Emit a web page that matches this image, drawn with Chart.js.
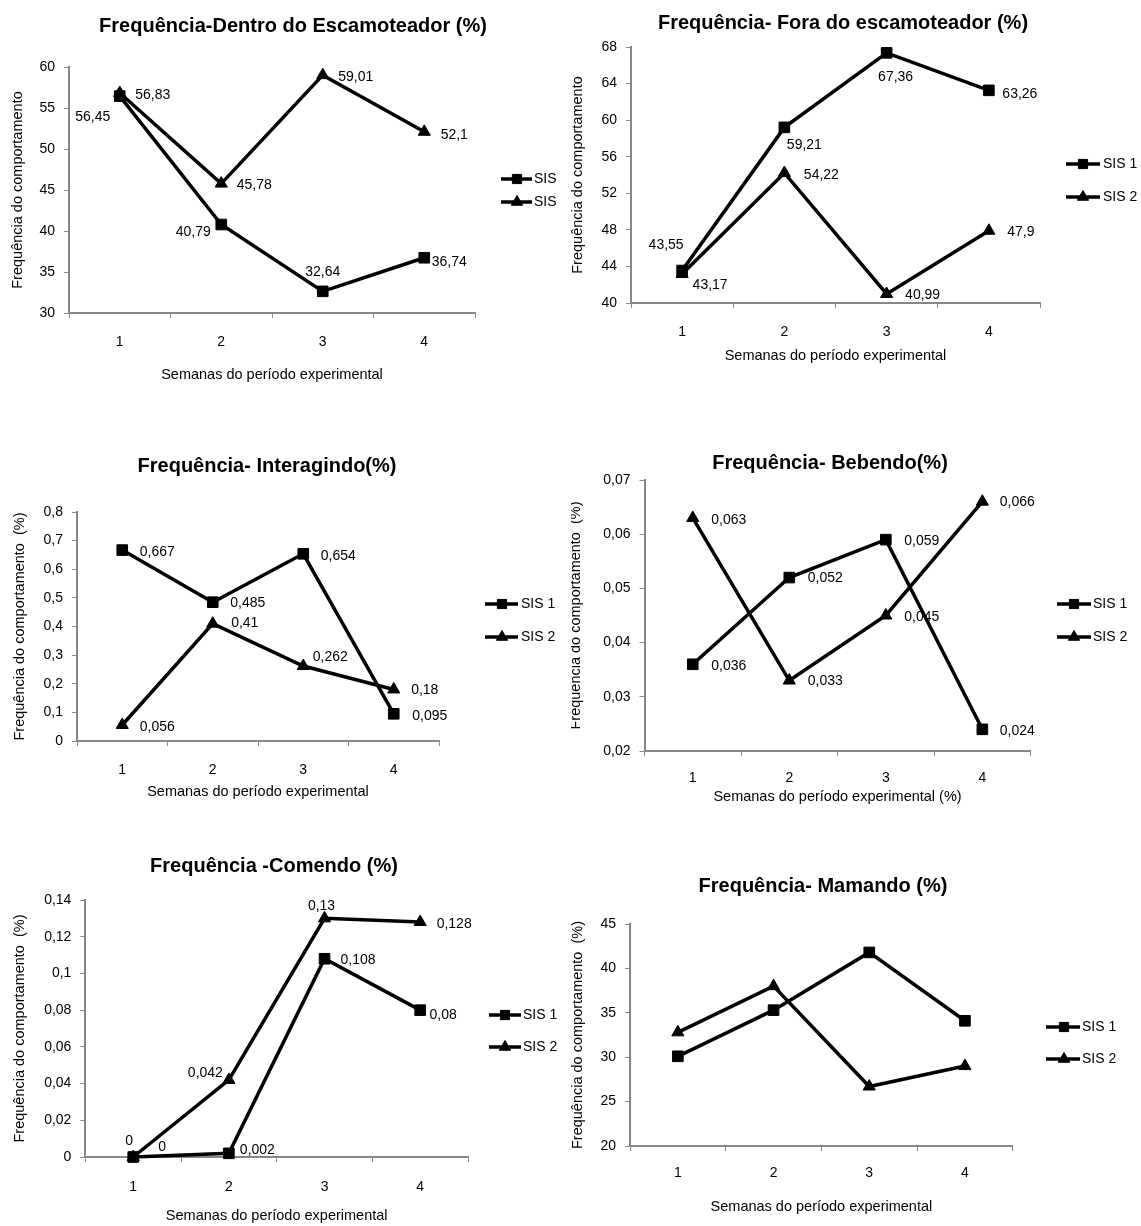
<!DOCTYPE html>
<html>
<head>
<meta charset="utf-8">
<script src="https://cdn.jsdelivr.net/npm/chart.js@4/dist/chart.umd.min.js"></script>
<style>
  html, body { margin: 0; padding: 0; background: #fff; }
  #wrap { position: relative; width: 1141px; height: 1226px; overflow: hidden; background: #fff; }
  canvas { position: absolute; }
</style>
</head>
<body>
<div id="wrap">
  <canvas id="c1"></canvas>
  <canvas id="c2"></canvas>
  <canvas id="c3"></canvas>
  <canvas id="c4"></canvas>
  <canvas id="c5"></canvas>
  <canvas id="c6"></canvas>
</div>
<script>
// ---------------- DATA ----------------
const weeks = ['1', '2', '3', '4'];
const seriesNames = ['SIS 1', 'SIS 2'];

const dentroSis1 = [56.45, 40.79, 32.64, 36.74];
const dentroSis2 = [56.83, 45.78, 59.01, 52.1];
const dentroTicks = [30, 35, 40, 45, 50, 55, 60];

const foraSis1 = [43.55, 59.21, 67.36, 63.26];
const foraSis2 = [43.17, 54.22, 40.99, 47.9];
const foraTicks = [40, 44, 48, 52, 56, 60, 64, 68];

const interSis1 = [0.667, 0.485, 0.654, 0.095];
const interSis2 = [0.056, 0.41, 0.262, 0.18];
const interTicks = [0, 0.1, 0.2, 0.3, 0.4, 0.5, 0.6, 0.7, 0.8];

const bebSis1 = [0.036, 0.052, 0.059, 0.024];
const bebSis2 = [0.063, 0.033, 0.045, 0.066];
const bebTicks = [0.02, 0.03, 0.04, 0.05, 0.06, 0.07];

const comSis1 = [0, 0.002, 0.108, 0.08];
const comSis2 = [0, 0.042, 0.13, 0.128];
const comTicks = [0, 0.02, 0.04, 0.06, 0.08, 0.1, 0.12, 0.14];

const mamSis1 = [30.1, 35.3, 41.8, 34.1];
const mamSis2 = [32.8, 38.0, 26.7, 29.0];
const mamTicks = [20, 25, 30, 35, 40, 45];

// ---------------- LABEL PLACEMENT (pixel offsets from each point) ----------------
const dentroLabelOffsets = [
  [[-27, 21], [-28, 8], [0, -19], [25, 4]],
  [[33, 2], [33, 2], [33, 2], [30, 3]]
];
const foraLabelOffsets = [
  [[-16, -25], [20, 18], [9, 24], [31, 4]],
  [[28, 11], [37, 2], [36, 1], [32, 1]]
];
const interLabelOffsets = [
  [[35, 2], [35, 1], [35, 2], [36, 2]],
  [[35, 2], [32, 0], [27, -9], [31, 1]]
];
const bebLabelOffsets = [
  [[36, 2], [36, 1], [36, 2], [35, 2]],
  [[36, 2], [36, 1], [36, 2], [35, 0]]
];
const comLabelOffsets = [
  [[29, -10], [28.5, -3], [33.5, 1], [23, 5]],
  [[-4, -16], [-23.5, -7], [-3, -12], [34, 2]]
];

// ---------------- HELPERS ----------------
const FAM = '"Liberation Sans", Arial, sans-serif';
const TICK_SIZE = 14;
const AXT_SIZE = 14.5;
const AXIS_GRAY = '#878787';
const fmt = v => String(v).replace('.', ',');

const overlay = {
  id: 'overlay',
  afterDatasetsDraw(chart, args, opts) {
    const ctx = chart.ctx;
    const g = opts.geo;
    ctx.save();
    ctx.fillStyle = '#000';
    ctx.textAlign = 'center';
    ctx.textBaseline = 'middle';
    ctx.font = TICK_SIZE + 'px ' + FAM;
    if (opts.labelOffsets) {
      opts.labelOffsets.forEach((offs, di) => {
        const meta = chart.getDatasetMeta(di);
        meta.data.forEach((pt, i) => {
          const v = chart.data.datasets[di].data[i];
          ctx.fillText(fmt(v), pt.x + offs[i][0], pt.y + offs[i][1]);
        });
      });
    }
    // title
    ctx.font = 'bold 20px ' + FAM;
    ctx.fillText(opts.title, g.titleX - g.cx, g.titleY - g.cy);
    // legend
    const styles = ['rect', 'triangle'];
    const radii = [6.5, 6.5];
    const ys = [g.legY1, g.legY2];
    ctx.font = TICK_SIZE + 'px ' + FAM;
    ctx.textAlign = 'left';
    for (let k = 0; k < 2; k++) {
      const y = ys[k] - g.cy;
      ctx.strokeStyle = '#000';
      ctx.lineWidth = 3.5;
      ctx.beginPath();
      ctx.moveTo(g.legL1 - g.cx, y);
      ctx.lineTo(g.legL2 - g.cx, y);
      ctx.stroke();
      ctx.fillStyle = '#000';
      ctx.lineWidth = 1;
      Chart.helpers.drawPoint(ctx, {pointStyle: styles[k], radius: radii[k], rotation: 0, borderWidth: 1},
        g.legM - g.cx, y);
      ctx.fillStyle = '#000';
      ctx.fillText(seriesNames[k], g.legT - g.cx, y);
    }
    ctx.restore();
  }
};

function makeChart(id, cfg) {
  const g = cfg.geo;
  const canvas = document.getElementById(id);
  canvas.width = g.cw;
  canvas.height = g.ch;
  canvas.style.left = g.cx + 'px';
  canvas.style.top = g.cy + 'px';
  canvas.style.width = g.cw + 'px';
  canvas.style.height = g.ch + 'px';
  const tickLh = TICK_SIZE * 1.2;
  const axLh = AXT_SIZE * 1.2;
  const xH = g.xTitleY - g.pb + axLh / 2;
  const padBottom = g.ch - (g.pb - g.cy) - xH;
  const ds = (label, data, style, r) => ({
    label, data,
    borderColor: '#000', backgroundColor: '#000', borderWidth: 3.5,
    pointStyle: style, pointRadius: r, pointBackgroundColor: '#000',
    pointBorderColor: '#000', pointBorderWidth: 1, tension: 0, clip: false, fill: false
  });
  new Chart(canvas, {
    type: 'line',
    data: {
      labels: weeks,
      datasets: [
        ds(seriesNames[0], cfg.s1, 'rect', 7.5),
        ds(seriesNames[1], cfg.s2, 'triangle', 7)
      ]
    },
    options: {
      responsive: false,
      animation: false,
      events: [],
      devicePixelRatio: 1,
      layout: {
        padding: { left: 0, top: g.pt - g.cy, right: g.cx + g.cw - g.pr, bottom: padBottom }
      },
      plugins: {
        legend: { display: false },
        title: { display: false },
        tooltip: { enabled: false },
        overlay: { geo: g, title: cfg.title, labelOffsets: cfg.labelOffsets }
      },
      scales: {
        x: {
          type: 'category',
          offset: true,
          grid: { offset: true, drawOnChartArea: false, drawTicks: true, tickLength: 5, color: AXIS_GRAY, lineWidth: 1 },
          border: { color: AXIS_GRAY, width: 2 },
          ticks: {
            color: '#000', font: { family: FAM, size: TICK_SIZE },
            padding: g.xTickY - g.pb - 5 - tickLh / 2, maxRotation: 0, autoSkip: false
          },
          title: {
            display: true, text: cfg.xTitle, color: '#000',
            font: { family: FAM, size: AXT_SIZE }, padding: { top: 0, bottom: 0 }
          },
          afterFit: s => { s.height = xH; }
        },
        y: {
          type: 'linear',
          min: cfg.ticks[0],
          max: cfg.ticks[cfg.ticks.length - 1],
          afterBuildTicks: s => { s.ticks = cfg.ticks.map(v => ({ value: v })); },
          grid: { drawOnChartArea: false, drawTicks: true, tickLength: 5, color: AXIS_GRAY, lineWidth: 1 },
          border: { color: AXIS_GRAY, width: 2 },
          ticks: {
            color: '#000', font: { family: FAM, size: TICK_SIZE }, padding: 9,
            callback: v => fmt(v)
          },
          title: {
            display: true, text: cfg.yTitle, color: '#000',
            font: { family: FAM, size: AXT_SIZE },
            padding: { top: g.yTitleX - g.cx - axLh / 2, bottom: 0 }
          },
          afterFit: s => { s.width = g.pl - g.cx; }
        }
      }
    },
    plugins: [overlay]
  });
}

const yT1 = 'Frequência do comportamento';
const yT2 = 'Frequência do comportamento  (%)';
const xT = 'Semanas do período experimental';

makeChart('c1', {
  title: 'Frequência-Dentro do Escamoteador (%)', yTitle: yT1, xTitle: xT,
  s1: dentroSis1, s2: dentroSis2, ticks: dentroTicks, labelOffsets: dentroLabelOffsets,
  geo: { cx: 0, cy: 0, cw: 557, ch: 410, pl: 69, pt: 67, pr: 475, pb: 313,
         titleX: 293, titleY: 26, yTitleX: 18, xTickY: 342, xTitleY: 375,
         legL1: 501, legL2: 532, legM: 517, legT: 534, legY1: 179, legY2: 202 }
});
makeChart('c2', {
  title: 'Frequência- Fora do escamoteador (%)', yTitle: yT1, xTitle: xT,
  s1: foraSis1, s2: foraSis2, ticks: foraTicks, labelOffsets: foraLabelOffsets,
  geo: { cx: 571, cy: 0, cw: 570, ch: 410, pl: 631, pt: 47, pr: 1040, pb: 303,
         titleX: 843, titleY: 23, yTitleX: 578, xTickY: 332, xTitleY: 356,
         legL1: 1066, legL2: 1100, legM: 1083, legT: 1103, legY1: 164, legY2: 197 }
});
makeChart('c3', {
  title: 'Frequência- Interagindo(%)', yTitle: yT2, xTitle: xT,
  s1: interSis1, s2: interSis2, ticks: interTicks, labelOffsets: interLabelOffsets,
  geo: { cx: 0, cy: 420, cw: 557, ch: 400, pl: 77, pt: 512, pr: 439, pb: 741,
         titleX: 267, titleY: 466, yTitleX: 20, xTickY: 770, xTitleY: 792,
         legL1: 485, legL2: 518, legM: 502, legT: 521, legY1: 604, legY2: 637 }
});
makeChart('c4', {
  title: 'Frequência- Bebendo(%)', yTitle: yT2, xTitle: xT + ' (%)',
  s1: bebSis1, s2: bebSis2, ticks: bebTicks, labelOffsets: bebLabelOffsets,
  geo: { cx: 571, cy: 420, cw: 570, ch: 400, pl: 644.5, pt: 480, pr: 1030.6, pb: 751,
         titleX: 830, titleY: 463, yTitleX: 576, xTickY: 778, xTitleY: 797,
         legL1: 1057, legL2: 1091, legM: 1074, legT: 1093, legY1: 604, legY2: 637 }
});
makeChart('c5', {
  title: 'Frequência -Comendo (%)', yTitle: yT2, xTitle: xT,
  s1: comSis1, s2: comSis2, ticks: comTicks, labelOffsets: comLabelOffsets,
  geo: { cx: 0, cy: 820, cw: 557, ch: 406, pl: 85.4, pt: 900, pr: 468, pb: 1157,
         titleX: 274, titleY: 866, yTitleX: 20, xTickY: 1187, xTitleY: 1216,
         legL1: 489, legL2: 521, legM: 505, legT: 523, legY1: 1015, legY2: 1047 }
});
makeChart('c6', {
  title: 'Frequência- Mamando (%)', yTitle: yT2, xTitle: xT,
  s1: mamSis1, s2: mamSis2, ticks: mamTicks, labelOffsets: null,
  geo: { cx: 571, cy: 820, cw: 570, ch: 406, pl: 630, pt: 924, pr: 1012.8, pb: 1146,
         titleX: 823, titleY: 886, yTitleX: 578, xTickY: 1173, xTitleY: 1207,
         legL1: 1046, legL2: 1080, legM: 1064, legT: 1082, legY1: 1027, legY2: 1059 }
});
</script>
</body>
</html>
